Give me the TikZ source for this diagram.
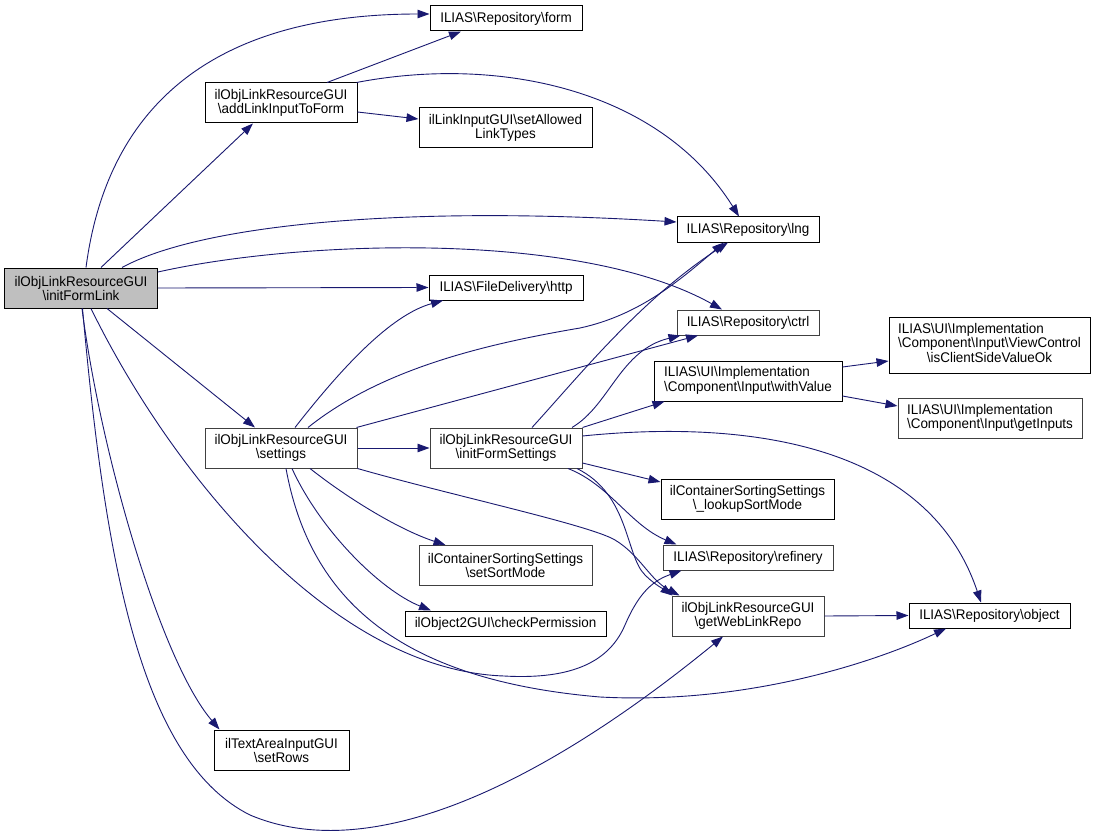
\documentclass[tikz,border=0pt]{standalone}
\usepackage{fontspec}
\setmainfont{Liberation Sans}[FakeStretch=0.96]
\usetikzlibrary{arrows.meta}
\definecolor{edgec}{RGB}{25,25,112}
\definecolor{nodegray}{RGB}{191,191,191}
\definecolor{bordergray}{RGB}{64,64,64}
\newcommand{\bsl}{\textbackslash}
\begin{document}
\begin{tikzpicture}[x=1pt,y=-1pt,
  box/.style={draw=black,line width=1pt,fill=white,inner sep=0pt,align=center,font=\fontsize{14}{14}\selectfont},
  gbox/.style={box,draw=bordergray},
  edge/.style={draw=edgec,line width=0.9pt,-{Triangle[length=12pt,width=8.5pt]}},
]
\useasboundingbox (0,0) rectangle (1096,832);
\fill[white] (0,0) rectangle (1096,832);

\node[box,fill=nodegray,minimum width=153pt,minimum height=40pt] (fl) at (81,288) {ilObjLinkResourceGUI\\\bsl initFormLink};
\node[box,minimum width=152pt,minimum height=25pt] (form) at (506,18.5) {ILIAS\bsl Repository\bsl form};
\node[box,minimum width=152pt,minimum height=40pt] (add) at (281,103) {ilObjLinkResourceGUI\\\bsl addLinkInputToForm};
\node[box,minimum width=173pt,minimum height=40pt] (allow) at (505.5,128) {ilLinkInputGUI\bsl setAllowed\\LinkTypes};
\node[box,minimum width=142pt,minimum height=25pt] (lng) at (748,229.5) {ILIAS\bsl Repository\bsl lng};
\node[box,minimum width=154pt,minimum height=25pt] (http) at (506,287.5) {ILIAS\bsl FileDelivery\bsl http};
\node[gbox,minimum width=142pt,minimum height=25pt] (ctrl) at (748,322.5) {ILIAS\bsl Repository\bsl ctrl};
\node[box,minimum width=201pt,minimum height=56pt] (iscl) at (989.5,345) {\begin{tabular}{@{}l@{}}ILIAS\bsl UI\bsl Implementation\\\bsl Component\bsl Input\bsl ViewControl\\\multicolumn{1}{@{}c@{}}{\bsl isClientSideValueOk}\end{tabular}};
\node[box,minimum width=188pt,minimum height=40pt] (wv) at (748,381) {\begin{tabular}{@{}l@{}}ILIAS\bsl UI\bsl Implementation\\\bsl Component\bsl Input\bsl withValue\end{tabular}};
\node[gbox,minimum width=184pt,minimum height=40pt] (gi) at (990,418.5) {\begin{tabular}{@{}l@{}}ILIAS\bsl UI\bsl Implementation\\\bsl Component\bsl Input\bsl getInputs\end{tabular}};
\node[gbox,minimum width=152pt,minimum height=40pt] (set) at (281,448) {ilObjLinkResourceGUI\\\bsl settings};
\node[gbox,minimum width=152pt,minimum height=40pt] (ifs) at (506,448) {ilObjLinkResourceGUI\\\bsl initFormSettings};
\node[box,minimum width=173pt,minimum height=40pt] (look) at (747.5,499) {ilContainerSortingSettings\\\bsl\_lookupSortMode};
\node[gbox,minimum width=173pt,minimum height=40pt] (sort) at (505.5,565.5) {ilContainerSortingSettings\\\bsl setSortMode};
\node[gbox,minimum width=170pt,minimum height=25pt] (ref) at (748,557.5) {ILIAS\bsl Repository\bsl refinery};
\node[box,minimum width=201pt,minimum height=25pt] (chk) at (505.5,623.5) {ilObject2GUI\bsl checkPermission};
\node[gbox,minimum width=152pt,minimum height=40pt] (gwl) at (748,616) {ilObjLinkResourceGUI\\\bsl getWebLinkRepo};
\node[box,minimum width=161pt,minimum height=25pt] (obj) at (989.5,615.5) {ILIAS\bsl Repository\bsl object};
\node[box,minimum width=135pt,minimum height=40pt] (rows) at (281.5,750) {ilTextAreaInputGUI\\\bsl setRows};

% initFormLink
\draw[edge] ([xshift=5pt]fl.north) .. controls (108,100) and (220,14) .. ([yshift=4.5pt]form.west);
\draw[edge] ([xshift=20pt]fl.north) -- ([xshift=-28pt]add.south);
\draw[edge] ([xshift=41pt]fl.north) .. controls (200,225) and (400,205) .. ([yshift=7.5pt]lng.west);
\draw[edge] ([yshift=16pt]fl.east) .. controls (300,240) and (580,230) .. ([xshift=-26pt]ctrl.north);
\draw[edge] (fl.east) -- (http.west);
\draw[edge] ([xshift=26pt]fl.south) -- ([xshift=-26pt]set.north);
\draw[edge] ([xshift=10pt]fl.south) .. controls (170,470) and (330,670) .. (504,676) .. controls (575,680) and (610,660) .. (625,625) .. controls (640,590) and (655,580) .. ([xshift=19pt]ref.south west);
\draw[edge] ([xshift=1pt]fl.south) .. controls (100,450) and (160,660) .. ([xshift=-62pt]rows.north);
\draw[edge] ([xshift=1.5pt]fl.south) .. controls (105,560) and (140,760) .. (250,815) .. controls (380,870) and (560,770) .. ([xshift=-25pt]gwl.south);

% addLinkInputToForm
\draw[edge] ([xshift=46pt]add.north) -- ([xshift=-45pt]form.south);
\draw[edge] ([yshift=-9pt]add.east) -- ([yshift=9pt]allow.west);
\draw[edge] ([xshift=-1pt]add.north east) .. controls (500,55) and (660,90) .. ([xshift=-9pt]lng.north);

% settings
\draw[edge] ([xshift=14pt]set.north) .. controls (340,370) and (390,315) .. ([xshift=-63pt]http.south);
\draw[edge] ([xshift=27pt]set.north) .. controls (380,370) and (480,345) .. (580,328) .. controls (640,315) and (680,280) .. ([xshift=-24pt]lng.south);
\draw[edge] ([xshift=-1pt]set.north east) -- ([xshift=-50pt]ctrl.south);
\draw[edge] (set.east) -- (ifs.west);
\draw[edge] ([xshift=29pt]set.south) .. controls (350,500) and (400,530) .. ([xshift=-60pt]sort.north);
\draw[edge] ([xshift=11pt]set.south) .. controls (320,530) and (380,590) .. ([xshift=-74.5pt]chk.north);
\draw[edge] (set.south east) .. controls (450,495) and (590,525) .. (615,540) .. controls (640,555) and (650,580) .. ([xshift=8pt]gwl.north west);
\draw[edge] ([xshift=5pt]set.south) .. controls (310,600) and (400,680) .. (600,697) .. controls (750,705) and (880,660) .. ([xshift=-43.5pt]obj.south);

% initFormSettings
\draw[edge] ([xshift=26pt]ifs.north) .. controls (580,375) and (640,300) .. ([xshift=-20pt]lng.south);
\draw[edge] ([xshift=66pt]ifs.north) .. controls (610,405) and (620,350) .. ([xshift=4pt]ctrl.south west);
\draw[edge] (ifs.north east) -- ([xshift=11pt]wv.south west);
\draw[edge] ([yshift=12pt]ifs.east) .. controls (760,418) and (930,450) .. ([xshift=-8.5pt]obj.north);
\draw[edge] ([yshift=-15pt]ifs.east) -- ([yshift=17pt]look.west);
\draw[edge] ([xshift=62pt]ifs.south) .. controls (610,485) and (630,525) .. ([xshift=14pt]ref.north west);
\draw[edge] ([xshift=71pt]ifs.south) .. controls (630,495) and (625,555) .. (645,575) .. controls (655,585) and (665,590) .. ([xshift=1pt]gwl.north west);

% withValue
\draw[edge] ([yshift=14pt]wv.east) -- ([yshift=-16pt]iscl.west);
\draw[edge] ([yshift=-15pt]wv.east) -- ([yshift=12.5pt]gi.west);

% getWebLinkRepo
\draw[edge] (gwl.east) -- (obj.west);
\end{tikzpicture}
\end{document}
